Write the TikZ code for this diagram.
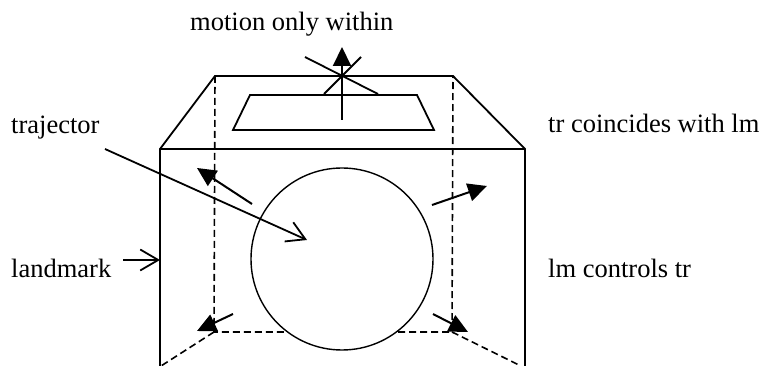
\documentclass[tikz,border=0pt]{standalone}
\usepackage{fontspec}
\setmainfont{Liberation Serif}
\usetikzlibrary{arrows.meta}
\begin{document}
\begin{tikzpicture}[x=1pt,y=-1pt,
  solidline/.style={line width=1.8pt, line join=miter},
  hidden/.style={line width=1.6pt, dash pattern=on 7pt off 4pt},
  lbl/.style={anchor=base west, inner sep=0pt, font=\fontsize{26.5}{30}\selectfont},
  openarrow/.style={line width=1.8pt, -{Straight Barb[length=18pt,width=21pt,line width=1.8pt]}},
  fillarrow/.style={line width=2pt, -{Triangle[length=19pt,width=18pt]}}]
\useasboundingbox (0,0) rectangle (764,366);
% box corners
\coordinate (fl) at (160,149);
\coordinate (fr) at (525,149);
\coordinate (bl) at (215,76);
\coordinate (br) at (453,76);
\coordinate (fbl) at (160,366);
\coordinate (fbr) at (525,366);
\coordinate (hl) at (214,332);
\coordinate (hr) at (452,332);
\coordinate (hbl) at (161,366);
\coordinate (hbr) at (521,366);
% hidden edges
\draw[hidden] (bl) -- (hl) -- (hr) -- (br);
\draw[hidden] (hl) -- (hbl);
\draw[hidden] (hr) -- (hbr);
% visible edges
\draw[solidline] (fbl) -- (fl) -- (bl) -- (br) -- (fr) -- (fbr);
\draw[solidline] (fl) -- (fr);
% inner trapezoid
\draw[solidline] (250,95) -- (417,95) -- (434,130) -- (233,130) -- cycle;
% circle
\node[circle, draw, fill=white, line width=1.4pt, minimum size=182pt, inner sep=0pt] (circ) at (342,259) {};
% cross and upward arrow
\coordinate (c1a) at (305,57); \coordinate (c1b) at (378,94);
\coordinate (c2a) at (361,57); \coordinate (c2b) at (324,94);
\draw[solidline] (c1a) -- (c1b);
\draw[solidline] (c2a) -- (c2b);
\coordinate (up0) at (342,120); \coordinate (up1) at (342,47);
\draw[fillarrow] (up0) -- (up1);
% labels
\node[lbl] (motion) at (190,31) {motion only within};
\node[lbl] (traj) at (11,134) {trajector};
\node[lbl] (land) at (11,278) {landmark};
\node[lbl] (coinc) at (548,133) {tr coincides with lm};
\node[lbl] (ctrl) at (548,278) {lm controls tr};
% open arrows
\coordinate (ts) at (105,149); \coordinate (tt) at (307,240);
\draw[openarrow] (ts) -- (tt);
\coordinate (ls) at (123,260); \coordinate (lt) at (160,260);
\draw[openarrow] (ls) -- (lt);
% filled arrows
\coordinate (a1s) at (252,204); \coordinate (a1t) at (197,168);
\coordinate (a2s) at (432,205); \coordinate (a2t) at (487,186);
\coordinate (a3s) at (233,314); \coordinate (a3t) at (197,331);
\coordinate (a4s) at (433,314); \coordinate (a4t) at (468,332);
\draw[fillarrow] (a1s) -- (a1t);
\draw[fillarrow] (a2s) -- (a2t);
\draw[fillarrow] (a3s) -- (a3t);
\draw[fillarrow] (a4s) -- (a4t);
\end{tikzpicture}
\end{document}
